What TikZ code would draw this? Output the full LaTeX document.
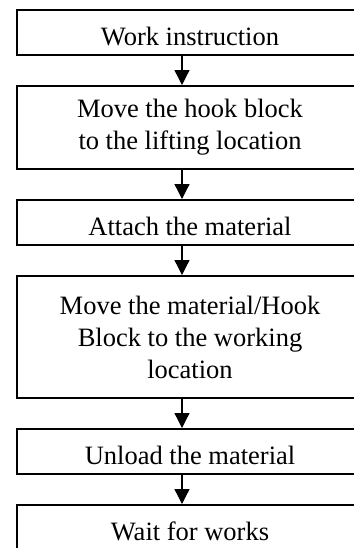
\documentclass[tikz,border=0pt]{standalone}
\usepackage{fontspec}
\setmainfont{Liberation Serif}
\usetikzlibrary{positioning,arrows.meta}

\begin{document}
\begin{tikzpicture}[x=0.5pt,y=-0.5pt]
\tikzset{node distance=14.5pt}
\tikzset{stage/.style={draw,line width=1pt,inner sep=0pt,minimum width=173pt,minimum height=22.5pt,align=center,font=\fontsize{13.25}{16}\selectfont}}
\tikzset{oneline/.style={stage,text height=13.3pt,text depth=0pt}}
\tikzset{flow/.style={line width=0.65pt,-{Triangle[width=7.5pt,length=7.5pt]}}}

\clip (0,0) rectangle (354,548);

\coordinate (spine) at (182,0);

\node[oneline] (instr) at (190,32.5) {Work instruction};
\node[stage,minimum height=41.5pt,below=of instr] (hook) {Move the hook block\\to the lifting location};
\node[oneline,below=of hook] (attach) {Attach the material};
\node[stage,minimum height=61pt,below=of attach] (carry) {Move the material/Hook\\Block to the working\\location};
\node[oneline,below=of carry] (unload) {Unload the material};
\node[oneline,below=of unload] (wait) {Wait for works};

\foreach \a/\b in {instr/hook,hook/attach,attach/carry,carry/unload,unload/wait}
  \draw[flow] (\a.south -| spine) -- (\b.north -| spine);

\end{tikzpicture}
\end{document}
